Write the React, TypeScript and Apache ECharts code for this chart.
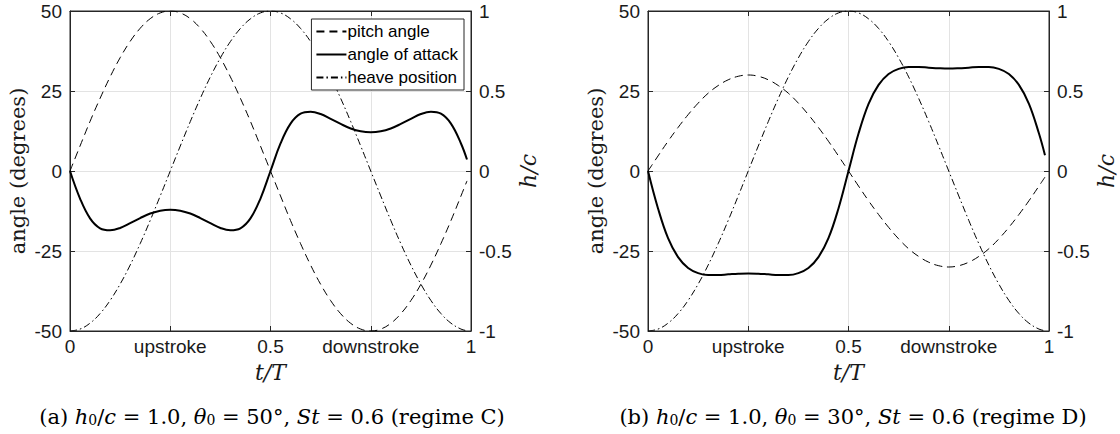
import React, { useEffect, useRef } from "react";
import * as echarts from "echarts";

const T = [0, 0.025, 0.05, 0.075, 0.1, 0.125, 0.15, 0.175, 0.2, 0.225, 0.25, 0.275, 0.3, 0.325, 0.35, 0.375, 0.4, 0.425, 0.45, 0.475, 0.5, 0.525, 0.55, 0.575, 0.6, 0.625, 0.65, 0.675, 0.7, 0.725, 0.75, 0.775, 0.8, 0.825, 0.85, 0.875, 0.9, 0.925, 0.95, 0.975, 0.99];

const pitchA = [0, 7.8, 15.5, 22.7, 29.4, 35.4, 40.5, 44.6, 47.6, 49.4, 50, 49.4, 47.6, 44.6, 40.5, 35.4, 29.4, 22.7, 15.5, 7.8, 0, -7.8, -15.5, -22.7, -29.4, -35.4, -40.5, -44.6, -47.6, -49.4, -50, -49.4, -47.6, -44.6, -40.5, -35.4, -29.4, -22.7, -15.5, -7.8, -3.1];
const aoaA = [0, -8.6, -14.8, -17.9, -18.5, -17.8, -16.3, -14.7, -13.3, -12.4, -12.1, -12.4, -13.3, -14.7, -16.3, -17.8, -18.5, -17.9, -14.8, -8.6, 0, 8.6, 14.8, 17.9, 18.5, 17.8, 16.3, 14.7, 13.3, 12.4, 12.1, 12.4, 13.3, 14.7, 16.3, 17.8, 18.5, 17.9, 14.8, 8.6, 3.6];
const pitchB = [0, 4.7, 9.3, 13.6, 17.6, 21.2, 24.3, 26.7, 28.5, 29.6, 30, 29.6, 28.5, 26.7, 24.3, 21.2, 17.6, 13.6, 9.3, 4.7, 0, -4.7, -9.3, -13.6, -17.6, -21.2, -24.3, -26.7, -28.5, -29.6, -30, -29.6, -28.5, -26.7, -24.3, -21.2, -17.6, -13.6, -9.3, -4.7, -1.9];
const aoaB = [0, -11.7, -21.0, -26.9, -30.3, -31.9, -32.5, -32.5, -32.3, -32.1, -32.0, -32.1, -32.3, -32.5, -32.5, -31.9, -30.3, -26.9, -21.0, -11.7, 0, 11.7, 21.0, 26.9, 30.3, 31.9, 32.5, 32.5, 32.3, 32.1, 32.0, 32.1, 32.3, 32.5, 32.5, 31.9, 30.3, 26.9, 21.0, 11.7, 4.9];
const heave = [-1, -0.988, -0.951, -0.891, -0.809, -0.707, -0.588, -0.454, -0.309, -0.156, 0, 0.156, 0.309, 0.454, 0.588, 0.707, 0.809, 0.891, 0.951, 0.988, 1, 0.988, 0.951, 0.891, 0.809, 0.707, 0.588, 0.454, 0.309, 0.156, 0, -0.156, -0.309, -0.454, -0.588, -0.707, -0.809, -0.891, -0.951, -0.988, -0.998];

const xTickLabels: Record<string, string> = { "0": "0", "0.25": "upstroke", "0.5": "0.5", "0.75": "downstroke", "1": "1" };
const leftTickLabels = ["-50", "-25", "0", "25", "50"];
const rightTickLabels = ["-1", "-0.5", "0", "0.5", "1"];
const seriesNames = ["pitch angle", "angle of attack", "heave position"];
// caption pieces: [style, text]
const captions: [string, string][][] = [
  [["r", "(a) "], ["i", "h"], ["s", "0"], ["r", "/"], ["i", "c"], ["r", " = 1.0, "], ["i", "θ"], ["s", "0"], ["r", " = 50°, "], ["i", "St"], ["r", " = 0.6 (regime C)"]],
  [["r", "(b) "], ["i", "h"], ["s", "0"], ["r", "/"], ["i", "c"], ["r", " = 1.0, "], ["i", "θ"], ["s", "0"], ["r", " = 30°, "], ["i", "St"], ["r", " = 0.6 (regime D)"]],
];

const SANS = "'Liberation Sans', Arial, Helvetica, sans-serif";
const SERIF = "'DejaVu Serif', 'Liberation Serif', serif";
const AX = "#262626";
const TXT = "#1a1a1a";

const pairs = (v: number[]) => T.map((t, i) => [t, v[i]]);

export default function App() {
  const ref = useRef<HTMLDivElement>(null);
  useEffect(() => {
    document.body.style.margin = "0";
    const chart = echarts.init(ref.current!, undefined, { renderer: "svg" });
    const grids = [
      { left: 70, top: 11, width: 401, height: 320 },
      { left: 648, top: 11, width: 401, height: 320 },
    ];
    const tick = { inside: true, length: 5, lineStyle: { color: AX } };
    const axLine = { show: true, onZero: false, lineStyle: { color: AX } };
    const xAxes: any[] = [];
    const yAxes: any[] = [];
    grids.forEach((_, gi) => {
      xAxes.push({
        gridIndex: gi, type: "value", min: 0, max: 1, interval: 0.25, position: "bottom",
        name: "t/T", nameLocation: "middle", nameGap: 30,
        nameTextStyle: { fontFamily: SERIF, fontStyle: "italic", fontSize: 22, color: TXT },
        axisLine: axLine, axisTick: tick,
        axisLabel: { formatter: (v: number) => xTickLabels[String(v)] ?? "", fontFamily: SANS, fontSize: 19, color: TXT, margin: 6 },
        splitLine: { show: true, lineStyle: { color: "#e3e3e3" } },
      });
      xAxes.push({
        gridIndex: gi, type: "value", min: 0, max: 1, interval: 0.25, position: "top",
        axisLine: axLine, axisTick: tick,
        axisLabel: { show: false }, splitLine: { show: false },
      });
      yAxes.push({
        gridIndex: gi, type: "value", min: -50, max: 50, interval: 25, position: "left",
        name: "angle (degrees)", nameLocation: "middle", nameGap: 42, nameRotate: 90,
        nameTextStyle: { fontFamily: SERIF, fontSize: 21, color: TXT },
        axisLine: axLine, axisTick: tick,
        axisLabel: { formatter: (v: number) => leftTickLabels[Math.round((v + 50) / 25)], fontFamily: SANS, fontSize: 19, color: TXT, margin: 8 },
        splitLine: { show: true, lineStyle: { color: "#e3e3e3" } },
      });
      yAxes.push({
        gridIndex: gi, type: "value", min: -1, max: 1, interval: 0.5, position: "right",
        name: "h/c", nameLocation: "middle", nameGap: 46, nameRotate: 90,
        nameTextStyle: { fontFamily: SERIF, fontStyle: "italic", fontSize: 22, color: TXT },
        axisLine: axLine, axisTick: tick,
        axisLabel: { formatter: (v: number) => rightTickLabels[Math.round((v + 1) / 0.5)], fontFamily: SANS, fontSize: 19, color: TXT, margin: 8 },
        splitLine: { show: false },
      });
    });
    const mk = (name: string, data: number[], gi: number, right: boolean, type: any, width: number) => ({
      name, type: "line", xAxisIndex: gi * 2, yAxisIndex: gi * 2 + (right ? 1 : 0),
      data: pairs(data), smooth: 0.4, symbol: "none", showSymbol: false,
      itemStyle: { color: "#000" },
      lineStyle: { color: "#000", width, type }, z: right ? 2 : 3,
    });
    const dash = [8, 5];
    const dashDot = [7, 3, 1.5, 3];
    const series = [
      mk(seriesNames[0], pitchA, 0, false, dash, 1),
      mk(seriesNames[1], aoaA, 0, false, "solid", 2),
      mk(seriesNames[2], heave, 0, true, dashDot, 1),
      mk(seriesNames[0], pitchB, 1, false, dash, 1),
      mk(seriesNames[1], aoaB, 1, false, "solid", 2),
      mk(seriesNames[2], heave, 1, true, dashDot, 1),
    ];
    const serifRich = {
      r: { fontFamily: SERIF, fontSize: 21, lineHeight: 28, verticalAlign: "bottom", color: "#000" },
      i: { fontFamily: SERIF, fontSize: 21, lineHeight: 28, verticalAlign: "bottom", fontStyle: "italic", color: "#000" },
      s: { fontFamily: SERIF, fontSize: 14, lineHeight: 14, verticalAlign: "bottom", color: "#000" },
    };
    const captionText = (parts: [string, string][]) => parts.map(([s, p]) => `{${s}|${p}}`).join("");
    chart.setOption({
      animation: false,
      backgroundColor: "#fff",
      grid: grids.map((g) => ({ ...g, show: true, borderColor: AX, borderWidth: 1, backgroundColor: "transparent" })),
      xAxis: xAxes,
      yAxis: yAxes,
      legend: {
        data: seriesNames, orient: "vertical", right: 656, top: 19, itemWidth: 30, itemHeight: 12, itemGap: 6,
        padding: [4, 6, 4, 4], backgroundColor: "#fff", borderColor: AX, borderWidth: 1, borderRadius: 0,
        itemStyle: { opacity: 0 },
        textStyle: { fontFamily: SANS, fontSize: 17, color: "#000", padding: [0, 0, 0, -4] },
        selectedMode: false,
      },
      series,
      graphic: [
        { type: "text", x: 272, y: 413, style: { text: captionText(captions[0]), rich: serifRich, align: "center", verticalAlign: "middle" } },
        { type: "text", x: 853, y: 413, style: { text: captionText(captions[1]), rich: serifRich, align: "center", verticalAlign: "middle" } },
      ],
    });
    return () => chart.dispose();
  }, []);
  return <div ref={ref} style={{ width: 1120, height: 434 }} />;
}
